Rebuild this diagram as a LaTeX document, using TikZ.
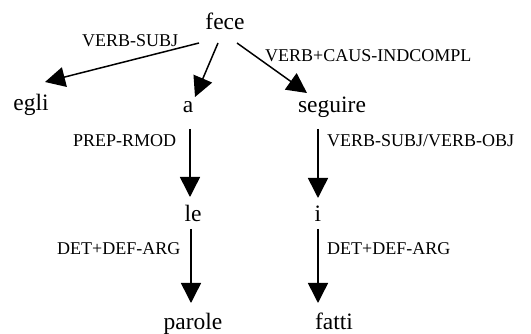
\documentclass[tikz,border=0pt]{standalone}
\usepackage{fontspec}
\setmainfont{Liberation Serif}
\usetikzlibrary{arrows.meta}
\begin{document}
\begin{tikzpicture}[x=1pt,y=-1pt,
  word/.style={anchor=base,inner sep=0pt,font=\fontsize{23.5}{24}\selectfont},
  lab/.style={anchor=base west,inner sep=0pt,font=\fontsize{18}{18}\selectfont},
  dep/.style={line width=1.5pt,-{Triangle[length=20pt,width=20pt]}}]
\useasboundingbox (0,0) rectangle (531,334);
\node[word] (fece) at (225,30) {fece};
\node[word] (egli) at (31,111) {egli};
\node[word] (a) at (188,113) {a};
\node[word] (seguire) at (332,113) {seguire};
\node[word] (le) at (193,222) {le};
\node[word] (i) at (318,222) {i};
\node[word] (parole) at (193,330) {parole};
\node[word] (fatti) at (334,330) {fatti};
\coordinate (f1) at (199,43);
\coordinate (f2) at (218,43);
\coordinate (f3) at (237,43);
\coordinate (t1) at (45,82);
\coordinate (t2) at (195,97);
\coordinate (t3) at (307,93);
\draw[dep] (f1) -- (t1);
\draw[dep] (f2) -- (t2);
\draw[dep] (f3) -- (t3);
\coordinate (a0) at (190,129);
\coordinate (a1) at (190,197);
\coordinate (s0) at (318,129);
\coordinate (s1) at (318,198);
\coordinate (l0) at (191,229);
\coordinate (l1) at (191,303);
\coordinate (i0) at (318,229);
\coordinate (i1) at (318,303);
\draw[dep] (a0) -- (a1);
\draw[dep] (s0) -- (s1);
\draw[dep] (l0) -- (l1);
\draw[dep] (i0) -- (i1);
\node[lab] (l_vs) at (82,47) {VERB-SUBJ};
\node[lab] (l_vc) at (265,62) {VERB+CAUS-INDCOMPL};
\node[lab] (l_pr) at (73,147) {PREP-RMOD};
\node[lab] (l_vo) at (327,147) {VERB-SUBJ/VERB-OBJ};
\node[lab] (l_d1) at (57,255) {DET+DEF-ARG};
\node[lab] (l_d2) at (327,255) {DET+DEF-ARG};
\end{tikzpicture}
\end{document}
